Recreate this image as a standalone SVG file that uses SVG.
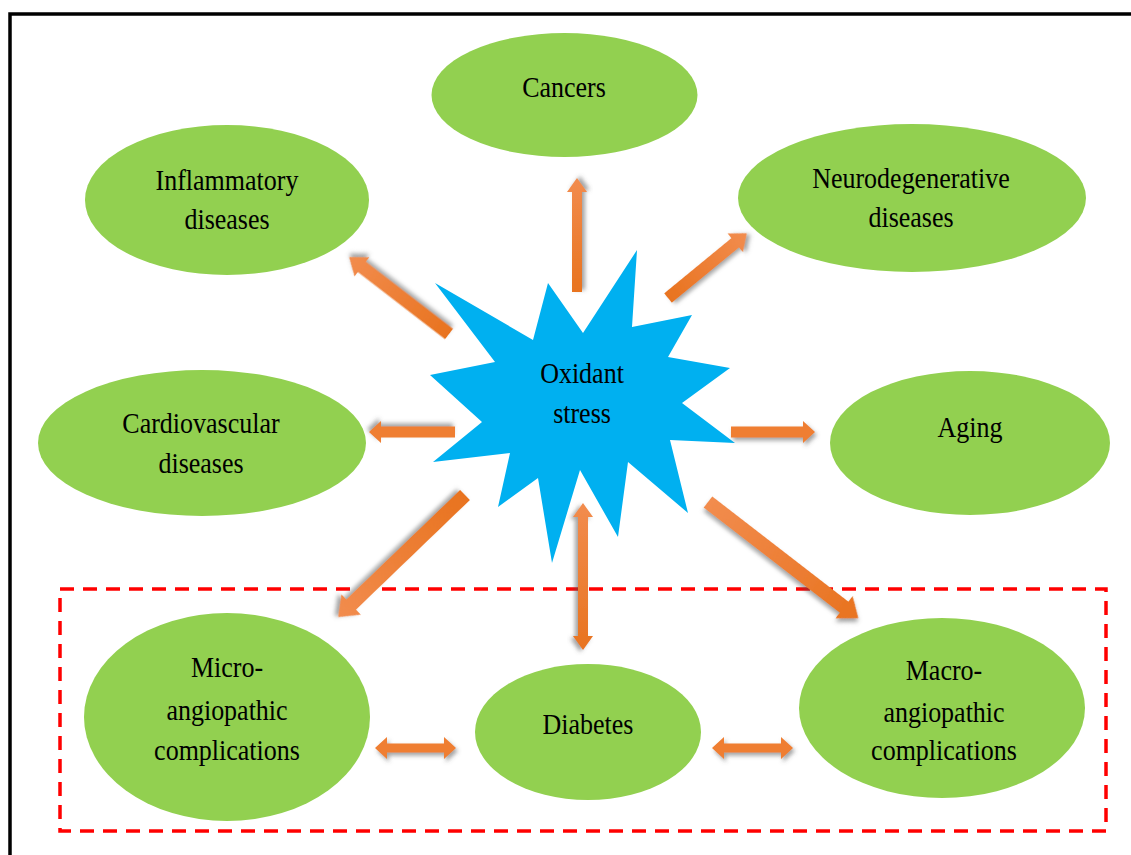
<svg xmlns="http://www.w3.org/2000/svg" width="1131" height="855" viewBox="0 0 1131 855">
  <defs>
    <style>
      .node { fill: #92D050; }
      .label { font-family: "Liberation Serif", "Times New Roman", serif; font-size: 26px; fill: #000; text-anchor: middle; }
      .arrow { filter: url(#shadow); }
    </style>
    <linearGradient id="gTip" x1="0" y1="0" x2="1" y2="0">
      <stop offset="0" stop-color="#E8731F"/>
      <stop offset="1" stop-color="#F28C4E"/>
    </linearGradient>
    <linearGradient id="gTail" x1="0" y1="0" x2="1" y2="0">
      <stop offset="0" stop-color="#F28C4E"/>
      <stop offset="1" stop-color="#E8731F"/>
    </linearGradient>
    <filter id="shadow" x="-30%" y="-30%" width="160%" height="160%">
      <feDropShadow dx="2" dy="3" stdDeviation="2" flood-color="#555" flood-opacity="0.55"/>
    </filter>
  </defs>

  <rect width="1131" height="855" fill="#fff"/>
  <!-- outer frame -->
  <path d="M10,870 V14 H1140" fill="none" stroke="#000" stroke-width="3.5"/>

  <!-- diabetes group frame -->
  <rect x="60" y="589" width="1046" height="242" fill="none" stroke="#FF0000" stroke-width="3.5" stroke-dasharray="14 9"/>

  <g id="cancers">
    <ellipse class="node" cx="564.5" cy="95" rx="133" ry="62"/>
    <text class="label" transform="translate(564,97) scale(1,1.15)">Cancers</text>
  </g>
  <g id="inflammatory">
    <ellipse class="node" cx="227" cy="200" rx="142" ry="75"/>
    <text class="label" transform="translate(227,190) scale(1,1.15)">Inflammatory</text>
    <text class="label" transform="translate(227,229) scale(1,1.15)">diseases</text>
  </g>
  <g id="neurodegenerative">
    <ellipse class="node" cx="912" cy="198" rx="174" ry="74"/>
    <text class="label" transform="translate(911,188) scale(1,1.15)">Neurodegenerative</text>
    <text class="label" transform="translate(911,227) scale(1,1.15)">diseases</text>
  </g>
  <g id="cardiovascular">
    <ellipse class="node" cx="202" cy="443" rx="164" ry="73"/>
    <text class="label" transform="translate(201,433) scale(1,1.15)">Cardiovascular</text>
    <text class="label" transform="translate(201,473) scale(1,1.15)">diseases</text>
  </g>
  <g id="aging">
    <ellipse class="node" cx="970" cy="443" rx="140" ry="72"/>
    <text class="label" transform="translate(970,437) scale(1,1.15)">Aging</text>
  </g>
  <g id="micro">
    <ellipse class="node" cx="227" cy="717" rx="143" ry="104"/>
    <text class="label" transform="translate(227,677) scale(1,1.15)">Micro-</text>
    <text class="label" transform="translate(227,720) scale(1,1.15)">angiopathic</text>
    <text class="label" transform="translate(227,760) scale(1,1.15)">complications</text>
  </g>
  <g id="diabetes">
    <ellipse class="node" cx="588" cy="732" rx="113" ry="68"/>
    <text class="label" transform="translate(588,734) scale(1,1.15)">Diabetes</text>
  </g>
  <g id="macro">
    <ellipse class="node" cx="942" cy="708" rx="143" ry="90"/>
    <text class="label" transform="translate(944,680) scale(1,1.15)">Macro-</text>
    <text class="label" transform="translate(944,722) scale(1,1.15)">angiopathic</text>
    <text class="label" transform="translate(944,760) scale(1,1.15)">complications</text>
  </g>

  <g id="oxidant-stress">
    <polygon fill="#00B0F0" points="435,283 533,340 548,283 583,333 637,250 632,327 692,315 668,357 730,368 682,403 735,443 670,440 688,513 628,462 618,537 580,470 552,563 538,478 498,507 510,453 433,462 482,422 430,375 495,362"/>
    <text class="label" transform="translate(582,383) scale(1,1.15)">Oxidant</text>
    <text class="label" transform="translate(582,423) scale(1,1.15)">stress</text>
  </g>

  <g id="connectors">
    <!-- to cancers -->
    <path class="arrow" fill="url(#gTip)" transform="translate(577,292) rotate(-90)" d="M0,-5 L100,-5 L100,-10 L114,0 L100,10 L100,5 L0,5 Z"/>
    <!-- to inflammatory diseases -->
    <path class="arrow" fill="url(#gTip)" transform="translate(449,334) rotate(-142.4)" d="M0,-6.5 L110,-6.5 L110,-12 L126,0 L110,12 L110,6.5 L0,6.5 Z"/>
    <!-- to neurodegenerative diseases -->
    <path class="arrow" fill="url(#gTip)" transform="translate(668,298) rotate(-39.4)" d="M0,-6 L87,-6 L87,-12 L102,0 L87,12 L87,6 L0,6 Z"/>
    <!-- to cardiovascular diseases -->
    <path class="arrow" fill="#EF7E30" transform="translate(455,432) rotate(180)" d="M0,-5.5 L74,-5.5 L74,-11 L86,0 L74,11 L74,5.5 L0,5.5 Z"/>
    <!-- to aging -->
    <path class="arrow" fill="#EF7E30" transform="translate(731,432)" d="M0,-5.5 L72,-5.5 L72,-11 L84,0 L72,11 L72,5.5 L0,5.5 Z"/>
    <!-- to micro-angiopathic complications -->
    <path class="arrow" fill="url(#gTip)" transform="translate(465,495) rotate(136.1)" d="M0,-7 L158,-7 L158,-14 L176,0 L158,14 L158,7 L0,7 Z"/>
    <!-- to macro-angiopathic complications -->
    <path class="arrow" fill="url(#gTail)" transform="translate(708,502) rotate(37.7)" d="M0,-7 L172,-7 L172,-14 L190,0 L172,14 L172,7 L0,7 Z"/>
    <!-- oxidant stress <-> diabetes -->
    <path class="arrow" fill="url(#gTail)" transform="translate(583,503) rotate(90)" d="M0,0 L14,-10 L14,-5 L133,-5 L133,-10 L147,0 L133,10 L133,5 L14,5 L14,10 Z"/>
    <!-- micro <-> diabetes -->
    <path class="arrow" fill="#EF7E30" transform="translate(375,748)" d="M0,0 L12,-11 L12,-4.5 L69,-4.5 L69,-11 L81,0 L69,11 L69,4.5 L12,4.5 L12,11 Z"/>
    <!-- diabetes <-> macro -->
    <path class="arrow" fill="#EF7E30" transform="translate(712,748)" d="M0,0 L12,-11 L12,-4.5 L69,-4.5 L69,-11 L81,0 L69,11 L69,4.5 L12,4.5 L12,11 Z"/>
  </g>
</svg>
